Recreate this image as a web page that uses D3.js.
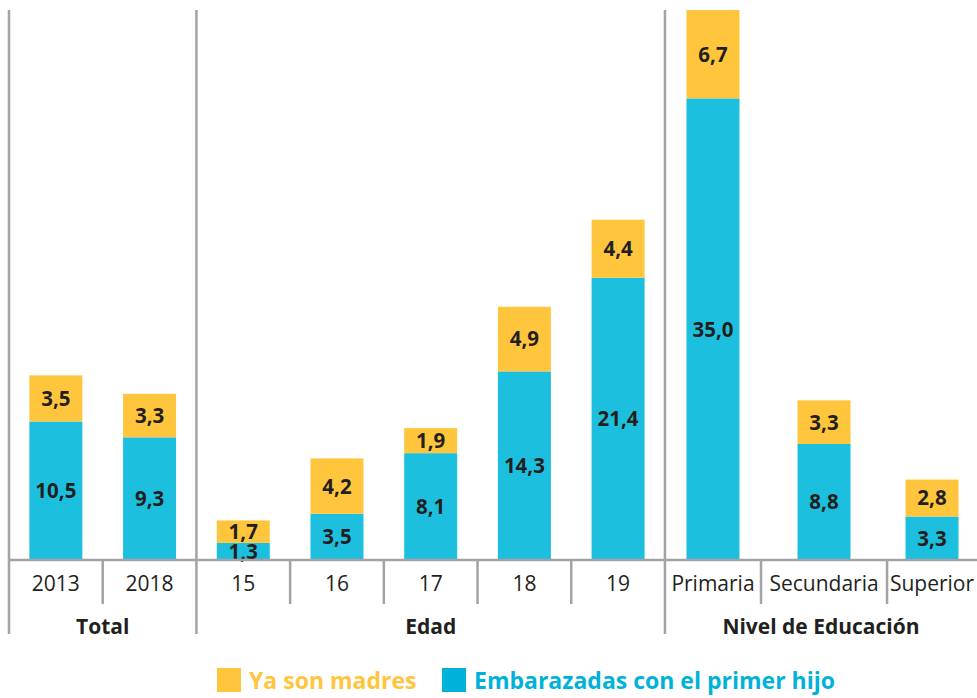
<!DOCTYPE html>
<html>
<head>
<meta charset="utf-8">
<script src="https://cdn.jsdelivr.net/npm/d3@7"></script>
<style>
  body { margin: 0; background: #fff; }
  text { font-family: "Open Sans", sans-serif; }
</style>
</head>
<body>
<div id="wrapper"></div>
<script>
// DATA
const categories = ["2013", "2018", "15", "16", "17", "18", "19", "Primaria", "Secundaria", "Superior"];
const groups = ["Total", "Total", "Edad", "Edad", "Edad", "Edad", "Edad", "Nivel de Educación", "Nivel de Educación", "Nivel de Educación"];
const embarazadas = [10.5, 9.3, 1.3, 3.5, 8.1, 14.3, 21.4, 35.0, 8.8, 3.3];
const yaMadres = [3.5, 3.3, 1.7, 4.2, 1.9, 4.9, 4.4, 6.7, 3.3, 2.8];
const seriesNames = ["Ya son madres", "Embarazadas con el primer hijo"];

// layout: relative column widths (label room differs in the last group)
const colWeights = [1, 1, 1, 1, 1, 1, 1, 1.025, 1.345, 0.96];

const width = 977, height = 698;
const leftX = 9, rightX = 977, topY = 10, baseY = 560;
const yellow = "#FFC53D", blue = "#1DBFDF", gray = "#A3A3A7", ink = "#231F20";

const rows = categories.map((c, i) => ({ cat: c, group: groups[i], emb: embarazadas[i], ya: yaMadres[i] }));
const stack = d3.stack().keys(["emb", "ya"])(rows);

// x: cumulative column weights -> pixels
const edges = [0];
colWeights.forEach(w => edges.push(edges[edges.length - 1] + w));
const x = d3.scaleLinear().domain([0, edges[edges.length - 1]]).range([leftX, rightX]);
const colStart = i => x(edges[i]);
const colEnd = i => x(edges[i + 1]);
const colMid = i => (colStart(i) + colEnd(i)) / 2;
const barW = 53;

const y = d3.scaleLinear()
  .domain([0, d3.max(rows, d => d.emb + d.ya)])
  .range([baseY, topY]);

const fmt = d3.formatLocale({ decimal: ",", thousands: ".", grouping: [3], currency: ["", ""] }).format(".1f");

const svg = d3.select("#wrapper").append("svg")
  .attr("width", width).attr("height", height);

// bars (all rects first, then the value labels on top)
const colors = { emb: blue, ya: yellow };
const barsG = svg.append("g");
const labelsG = svg.append("g");
stack.forEach(layer => {
  barsG.append("g").selectAll("rect").data(layer).join("rect")
    .attr("x", (d, i) => colMid(i) - barW / 2)
    .attr("width", barW)
    .attr("y", d => y(d[1]))
    .attr("height", d => y(d[0]) - y(d[1]))
    .attr("fill", colors[layer.key]);
  labelsG.append("g").selectAll("text").data(layer).join("text")
    .attr("x", (d, i) => colMid(i))
    .attr("y", d => (y(d[0]) + y(d[1])) / 2)
    .attr("dy", "0.36em")
    .attr("text-anchor", "middle")
    .attr("font-size", 20.5)
    .attr("font-weight", 700)
    .attr("fill", ink)
    .text(d => fmt(d.data[layer.key]));
});

// axis frame
const axis = svg.append("g").attr("stroke", gray).attr("fill", "none");
axis.append("line")
  .attr("x1", leftX).attr("x2", rightX)
  .attr("y1", baseY).attr("y2", baseY)
  .attr("stroke-width", 2.5);

// group separators (full height) and category separators (inside groups)
const groupNames = Array.from(new Set(groups));
const groupStart = groupNames.map(g => groups.indexOf(g));
const groupEnd = groupNames.map(g => groups.lastIndexOf(g));
groupStart.forEach(i => {
  axis.append("line")
    .attr("x1", colStart(i)).attr("x2", colStart(i))
    .attr("y1", topY).attr("y2", 634)
    .attr("stroke-width", 2.5);
});
categories.forEach((c, i) => {
  if (i > 0 && groups[i] === groups[i - 1]) {
    axis.append("line")
      .attr("x1", colStart(i)).attr("x2", colStart(i))
      .attr("y1", baseY).attr("y2", 604)
      .attr("stroke-width", 2.5);
  }
});

// category labels
svg.append("g").selectAll("text").data(categories).join("text")
  .attr("x", (d, i) => colMid(i))
  .attr("y", 583)
  .attr("dy", "0.36em")
  .attr("text-anchor", "middle")
  .attr("font-size", 21)
  .attr("fill", ink)
  .text(d => d);

// group labels
svg.append("g").selectAll("text").data(groupNames).join("text")
  .attr("x", (d, k) => (colStart(groupStart[k]) + colEnd(groupEnd[k])) / 2)
  .attr("y", 626)
  .attr("dy", "0.36em")
  .attr("text-anchor", "middle")
  .attr("font-size", 21)
  .attr("font-weight", 700)
  .attr("fill", ink)
  .text(d => d);

// legend
const legendColors = [yellow, "#00B2DA"];
const legendX = [217, 442];
const legend = svg.append("g");
seriesNames.forEach((name, i) => {
  legend.append("rect")
    .attr("x", legendX[i]).attr("y", 668)
    .attr("width", 24).attr("height", 24)
    .attr("fill", legendColors[i]);
  legend.append("text")
    .attr("x", legendX[i] + 32).attr("y", 681)
    .attr("dy", "0.36em")
    .attr("font-size", 23)
    .attr("font-weight", 700)
    .attr("fill", legendColors[i])
    .text(name);
});
</script>
</body>
</html>
